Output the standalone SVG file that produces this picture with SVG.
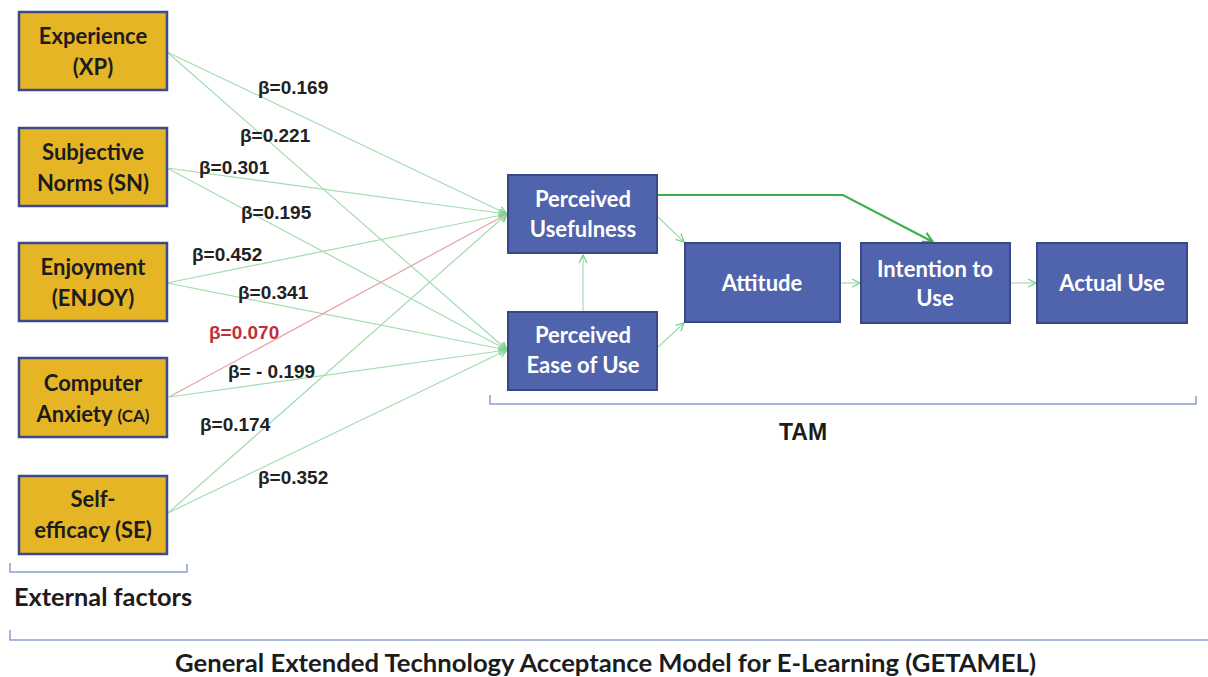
<svg xmlns="http://www.w3.org/2000/svg" width="1208" height="677" viewBox="0 0 1208 677">
<style>
.ext{fill:#e5b526;stroke:#3c4a8c;stroke-width:2.5}
.tam{fill:#5064ad;stroke:#3b4886;stroke-width:2}
.et{font-family:Lato,"Liberation Sans",sans-serif;font-weight:bold;font-size:22px;fill:#1c1c1c;text-anchor:middle}
.tt{font-family:Lato,"Liberation Sans",sans-serif;font-weight:bold;font-size:22px;fill:#ffffff;text-anchor:middle}
.b{font-family:"Liberation Sans",Arial,sans-serif;font-weight:bold;font-size:19px;fill:#222222}
.c{fill:none;stroke:#a3dcae;stroke-width:1.2}
.r{fill:none;stroke:#e6a3a6;stroke-width:1.2}
.br{fill:none;stroke:#8d9dd1;stroke-width:1.5}
.lab{font-family:Lato,"Liberation Sans",sans-serif;font-weight:bold;fill:#1c1c1c}
</style>
<defs>
<marker id="ah" viewBox="0 0 10 10" refX="9" refY="5" markerWidth="10" markerHeight="10" markerUnits="userSpaceOnUse" orient="auto">
<path d="M1,1 L9,5 L1,9" fill="none" stroke="#7fd08e" stroke-width="1.3"/>
</marker>
<marker id="ahd" viewBox="0 0 12 12" refX="11" refY="6" markerWidth="12" markerHeight="12" markerUnits="userSpaceOnUse" orient="auto">
<path d="M1,1 L11,6 L1,11" fill="none" stroke="#3cb043" stroke-width="2"/>
</marker>
</defs>
<rect width="1208" height="677" fill="#ffffff"/>
<g id="connectors">
<line class="c" x1="167" y1="52" x2="507" y2="214" marker-end="url(#ah)"/>
<line class="c" x1="167" y1="52" x2="507" y2="350" marker-end="url(#ah)"/>
<line class="c" x1="167" y1="168" x2="507" y2="214" marker-end="url(#ah)"/>
<line class="c" x1="167" y1="168" x2="507" y2="350" marker-end="url(#ah)"/>
<line class="c" x1="167" y1="283" x2="507" y2="214" marker-end="url(#ah)"/>
<line class="c" x1="167" y1="283" x2="507" y2="350" marker-end="url(#ah)"/>
<line class="r" x1="169" y1="397" x2="507" y2="214" marker-end="url(#ah)"/>
<line class="c" x1="169" y1="397" x2="507" y2="350" marker-end="url(#ah)"/>
<line class="c" x1="168" y1="513" x2="507" y2="214" marker-end="url(#ah)"/>
<line class="c" x1="168" y1="513" x2="507" y2="350" marker-end="url(#ah)"/>
<line class="c" x1="583" y1="311" x2="583" y2="255" marker-end="url(#ah)"/>
<line class="c" x1="658" y1="217" x2="684" y2="242" marker-end="url(#ah)"/>
<line class="c" x1="658" y1="347" x2="684" y2="323" marker-end="url(#ah)"/>
<line class="c" x1="841" y1="283" x2="860" y2="283" marker-end="url(#ah)"/>
<line class="c" x1="1011" y1="283" x2="1036" y2="283" marker-end="url(#ah)"/>
<polyline points="658,195 843,195 933,242" fill="none" stroke="#3cb043" stroke-width="2" marker-end="url(#ahd)"/>
</g>
<g id="labels">
<text class="b" x="258" y="94">β=0.169</text>
<text class="b" x="240" y="142">β=0.221</text>
<text class="b" x="199" y="174">β=0.301</text>
<text class="b" x="241" y="219">β=0.195</text>
<text class="b" x="192" y="261">β=0.452</text>
<text class="b" x="238" y="299">β=0.341</text>
<text class="b" x="209" y="339" style="fill:#c0303a">β=0.070</text>
<text class="b" x="228" y="378">β= - 0.199</text>
<text class="b" x="200" y="431">β=0.174</text>
<text class="b" x="258" y="484">β=0.352</text>
</g>
<g id="xp"><rect class="ext" x="19" y="12" width="148" height="78"/><text class="et" x="93" y="44">Experience</text><text class="et" x="93" y="75">(XP)</text></g>
<g id="sn"><rect class="ext" x="19" y="128" width="148" height="78"/><text class="et" x="93" y="160">Subjective</text><text class="et" x="93" y="191">Norms (SN)</text></g>
<g id="enjoy"><rect class="ext" x="19" y="243" width="148" height="78"/><text class="et" x="93" y="275">Enjoyment</text><text class="et" x="93" y="306">(ENJOY)</text></g>
<g id="ca"><rect class="ext" x="19" y="358" width="148" height="79"/><text class="et" x="93" y="391">Computer</text><text class="et" x="93" y="422">Anxiety <tspan font-size="17">(CA)</tspan></text></g>
<g id="se"><rect class="ext" x="19" y="476" width="148" height="78"/><text class="et" x="93" y="507">Self-</text><text class="et" x="93" y="538">efficacy (SE)</text></g>
<g id="pu"><rect class="tam" x="508" y="175" width="149" height="78"/><text class="tt" x="583" y="207">Perceived</text><text class="tt" x="583" y="237">Usefulness</text></g>
<g id="peou"><rect class="tam" x="508" y="312" width="149" height="78"/><text class="tt" x="583" y="343">Perceived</text><text class="tt" x="583" y="373">Ease of Use</text></g>
<g id="att"><rect class="tam" x="685" y="243" width="155" height="79"/><text class="tt" x="762" y="291">Attitude</text></g>
<g id="itu"><rect class="tam" x="861" y="243" width="149" height="80"/><text class="tt" x="935" y="277">Intention to</text><text class="tt" x="935" y="306">Use</text></g>
<g id="au"><rect class="tam" x="1037" y="243" width="150" height="80"/><text class="tt" x="1112" y="291">Actual Use</text></g>
<g id="brackets">
<path class="br" d="M490,395 V404 H1196 V396"/>
<path class="br" d="M10,563 V572 H187 V564"/>
<path class="br" d="M10,630 V640 H1208"/>
</g>
<text x="803" y="440" font-family="'Liberation Sans',Arial,sans-serif" font-weight="bold" font-size="23" fill="#1c1c1c" text-anchor="middle">TAM</text>
<text class="lab" x="14" y="606" font-size="24" textLength="178" lengthAdjust="spacingAndGlyphs">External factors</text>
<text class="lab" x="175" y="672" font-size="24" textLength="861" lengthAdjust="spacingAndGlyphs">General Extended Technology Acceptance Model for E-Learning (GETAMEL)</text>
</svg>
